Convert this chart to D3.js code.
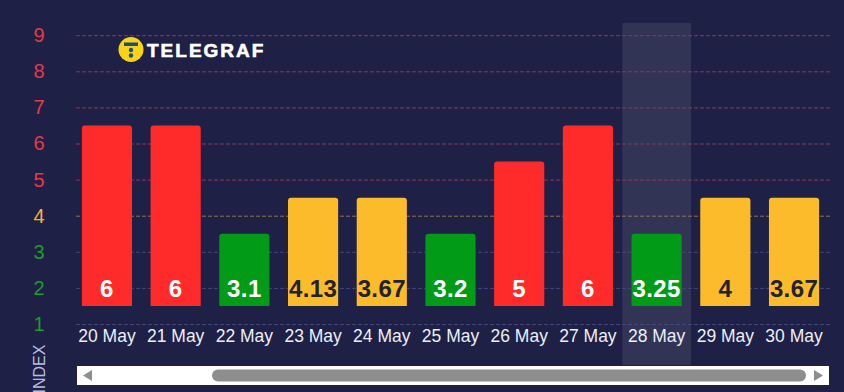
<!DOCTYPE html>
<html>
<head>
  <meta charset="utf-8">
  <style>
    html, body { margin: 0; padding: 0; background: #1e2046; }
    svg { display: block; font-family: "Liberation Sans", Arial, sans-serif; }
  </style>
</head>
<body>
<script src="https://d3js.org/d3.v7.min.js"></script>
<script>

// days shown on the axis
var days = ["20 May", "21 May", "22 May", "23 May", "24 May", "25 May",
            "26 May", "27 May", "28 May", "29 May", "30 May"];
// index value written on each bar
var values = [6, 6, 3.1, 4.13, 3.67, 3.2, 5, 6, 3.25, 4, 3.67];
// level the bar reaches on the index scale (bars start at 1.5)
var levels = [6.5, 6.5, 3.5, 4.5, 4.5, 3.5, 5.5, 6.5, 3.5, 4.5, 4.5];
var yTicks = [1, 2, 3, 4, 5, 6, 7, 8, 9];
var highlighted = "28 May";

var W = 844, H = 392;

var svg = d3.select("body").append("svg")
  .attr("width", W)
  .attr("height", H);

var x = d3.scaleBand()
  .domain(days)
  .range([72.6, 828.4])
  .paddingInner(0.27)
  .paddingOuter(0.135);

var y = d3.scaleLinear()
  .domain([1, 9])
  .range([324, 35.2]);

// colour of a level: red for high, yellow for middle, green for low
function levelColor(v) {
  if (v >= 5) return "#ff2b2b";
  if (v >= 4) return "#fbbb2b";
  return "#029b17";
}
function tickColor(v) {
  if (v >= 5) return "#e43a45";
  if (v >= 4) return "#f2b13a";
  return "#1f9a2c";
}
function gridColor(v) {
  if (v >= 5) return "#8c3657";
  if (v >= 4) return "#8e7356";
  return "#42467a";
}

// highlighted column
svg.append("rect")
  .attr("x", x(highlighted) - x.step() * x.paddingInner() / 2)
  .attr("y", 23)
  .attr("width", x.step())
  .attr("height", 342)
  .attr("fill", "#ffffff")
  .attr("fill-opacity", 0.09);

// grid lines
svg.append("g").selectAll("line")
  .data(yTicks)
  .join("line")
    .attr("x1", 76)
    .attr("x2", 830)
    .attr("y1", function(d) { return y(d) + 0.5; })
    .attr("y2", function(d) { return y(d) + 0.5; })
    .attr("stroke", gridColor)
    .attr("stroke-width", 1)
    .attr("stroke-dasharray", "4,2");

// y axis labels
var yAxis = d3.axisLeft(y).tickValues(yTicks).tickSize(0).tickPadding(0);
var yg = svg.append("g")
  .attr("transform", "translate(39,0)")
  .call(yAxis);
yg.select(".domain").remove();
yg.selectAll("text")
  .attr("text-anchor", "middle")
  .attr("font-size", 20)
  .attr("font-family", "Liberation Sans, Arial, sans-serif")
  .attr("fill", function(d) { return tickColor(d); });

// axis title, cut by the bottom edge as in the source
svg.append("text")
  .attr("transform", "translate(45,369) rotate(-90)")
  .attr("text-anchor", "middle")
  .attr("font-size", 16)
  .attr("fill", "#b9bde0")
  .text("INDEX");

// x axis labels
var xAxis = d3.axisBottom(x).tickSize(0).tickPadding(0);
var xg = svg.append("g")
  .attr("transform", "translate(0,329.5)")
  .call(xAxis);
xg.select(".domain").remove();
xg.selectAll("text")
  .attr("font-size", 17.5)
  .attr("font-family", "Liberation Sans, Arial, sans-serif")
  .attr("fill", "#eceef8");

// bars with rounded tops
function barPath(d, i) {
  var x0 = x(days[i]), w = x.bandwidth();
  var top = y(levels[i]), bottom = y(1.5), r = 3;
  return "M" + x0 + "," + bottom +
    "V" + (top + r) +
    "Q" + x0 + "," + top + " " + (x0 + r) + "," + top +
    "H" + (x0 + w - r) +
    "Q" + (x0 + w) + "," + top + " " + (x0 + w) + "," + (top + r) +
    "V" + bottom + "Z";
}
svg.append("g").selectAll("path")
  .data(values)
  .join("path")
    .attr("d", barPath)
    .attr("fill", function(d, i) { return levelColor(levels[i]); });

// value labels
svg.append("g").selectAll("text")
  .data(values)
  .join("text")
    .attr("x", function(d, i) { return x(days[i]) + x.bandwidth() / 2; })
    .attr("y", y(2) + 9)
    .attr("text-anchor", "middle")
    .attr("font-size", 24)
    .attr("font-weight", "bold")
    .attr("letter-spacing", 0.4)
    .attr("fill", function(d, i) { return levels[i] >= 4 && levels[i] < 5 ? "#222230" : "#ffffff"; })
    .text(function(d) { return d; });

// logo
var logo = svg.append("g").attr("transform", "translate(131,49.5)");
logo.append("circle").attr("r", 12.5).attr("fill", "#f7d417");
logo.append("rect").attr("x", -7).attr("y", -7).attr("width", 14).attr("height", 3.5).attr("fill", "#1d4f7c");
logo.append("circle").attr("cx", 0).attr("cy", 0.5).attr("r", 2.2).attr("fill", "#1d4f7c");
logo.append("circle").attr("cx", 0).attr("cy", 6).attr("r", 2.2).attr("fill", "#1d4f7c");
svg.append("text")
  .attr("x", 147)
  .attr("y", 57)
  .attr("font-size", 19)
  .attr("font-weight", 900)
  .attr("letter-spacing", 2)
  .attr("stroke", "#ffffff")
  .attr("stroke-width", 0.6)
  .attr("fill", "#ffffff")
  .text("TELEGRAF");

// scrollbar
var sb = svg.append("g");
sb.append("rect").attr("x", 77).attr("y", 366).attr("width", 752).attr("height", 19).attr("fill", "#ffffff");
sb.append("rect").attr("x", 212).attr("y", 369.5).attr("width", 594).attr("height", 12)
  .attr("rx", 6).attr("fill", "#8e8e8e");
sb.append("path").attr("d", "M83,375.5 L92,370 L92,381 Z").attr("fill", "#8e8e8e");
sb.append("path").attr("d", "M823,375.5 L814,370 L814,381 Z").attr("fill", "#8e8e8e");

</script>
</body>
</html>
